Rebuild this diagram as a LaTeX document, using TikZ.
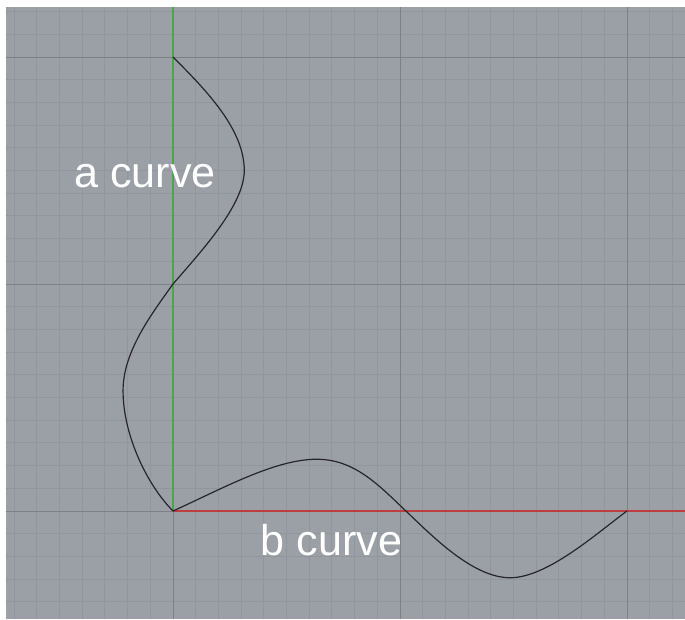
\documentclass[tikz,border=0pt]{standalone}
\usepackage{fontspec}
\setmainfont{Liberation Sans}
\definecolor{viewgray}{RGB}{155,159,166}
\definecolor{minorgray}{RGB}{145,149,156}
\definecolor{majorgray}{RGB}{126,128,133}
\definecolor{axisgreen}{RGB}{72,168,72}
\definecolor{axisred}{RGB}{188,62,62}
\definecolor{curvedark}{RGB}{38,38,42}

\begin{document}
\begin{tikzpicture}[x=0.5cm,y=0.5cm,
  minorline/.style={minorgray,line width=0.55pt},
  majorline/.style={majorgray,line width=0.6pt},
  axisline/.style={line width=1.3pt},
  curveline/.style={curvedark,line width=0.75pt},
  curvelabel/.style={white,inner sep=0pt,anchor=base,font=\fontsize{27}{32}\selectfont}]
\useasboundingbox (-7.621,-4.758) rectangle (22.555,22.511);
\fill[viewgray] (-7.357,-4.758) rectangle (22.555,22.203);
\begin{scope}
\clip (-7.357,-4.758) rectangle (22.555,22.203);
\foreach \x in {-7,...,22} \draw[minorline] (\x,-4.758) -- (\x,22.203);
\foreach \y in {-4,...,22} \draw[minorline] (-7.357,\y) -- (22.555,\y);
\foreach \v in {0,10,20} {
  \draw[majorline] (\v,-4.758) -- (\v,22.203);
  \draw[majorline] (-7.357,\v) -- (22.555,\v);
}
\end{scope}
\draw[axisline,axisgreen] (0,0) -- (0,22.203);
\draw[axisline,axisred] (0,0) -- (22.555,0);
\draw[curveline] (0,20) .. controls (1.5,18.5) and (3.14,16.8) .. (3.14,15)
  .. controls (3.14,13.5) and (1.3,11.5) .. (0,10)
  .. controls (-1,8.6) and (-2.2,7) .. (-2.2,5.3)
  .. controls (-2.2,3.3) and (-1.1,1.1) .. (0,0);
\draw[curveline] (0,0) .. controls (2.2,1.0) and (4.5,2.28) .. (6.33,2.28)
  .. controls (8,2.28) and (9.06,1.14) .. (10.26,0)
  .. controls (11.4,-1.08) and (13.2,-2.94) .. (14.85,-2.94)
  .. controls (16.5,-2.94) and (18.7,-0.95) .. (20,0);
\node[curvelabel] (alabel) at (-1.23,14.23) {a curve};
\node[curvelabel] (blabel) at (6.98,-1.94) {b curve};
\end{tikzpicture}
\end{document}
